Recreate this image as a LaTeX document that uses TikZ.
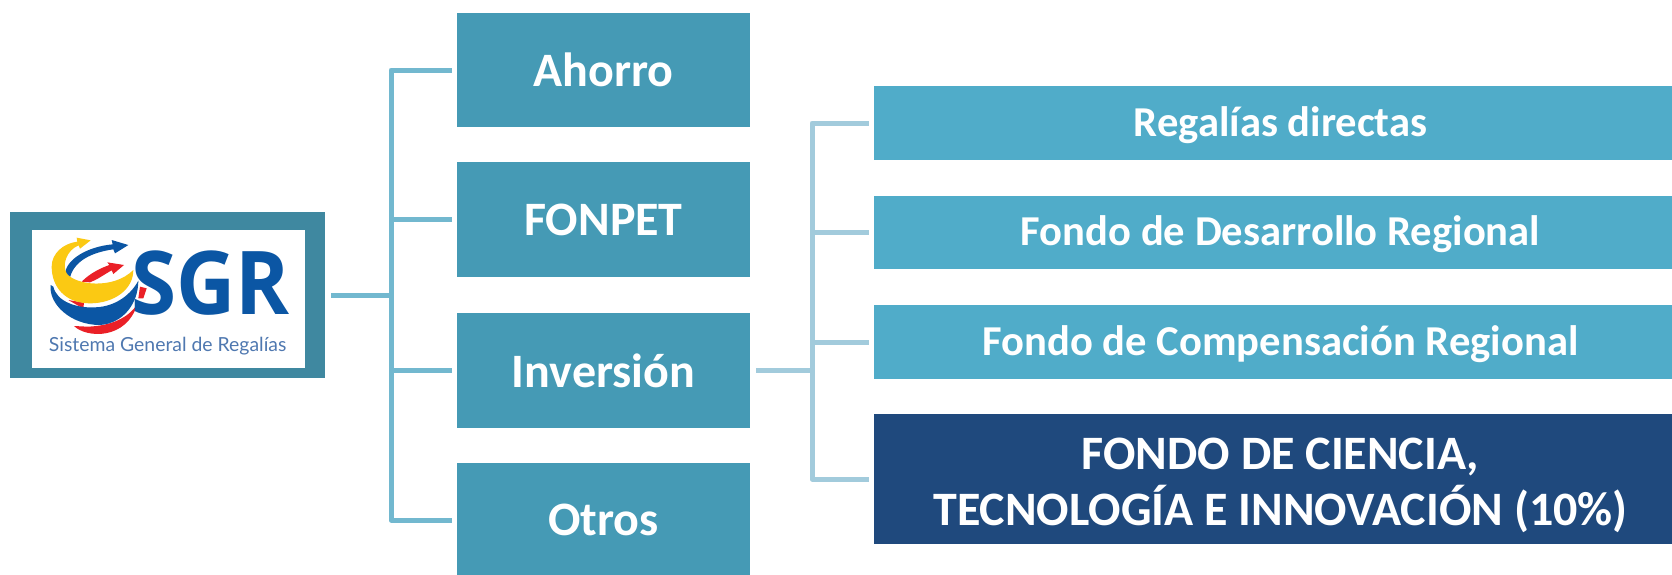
\documentclass[tikz,border=0pt]{standalone}
\usepackage{fontspec}
\setmainfont{Carlito}
\newfontfamily\logofont{Open Sans}
\newfontfamily\subfont{Lato}
\definecolor{boxa}{HTML}{459AB5}
\definecolor{boxb}{HTML}{50ACC9}
\definecolor{boxc}{HTML}{1F497D}
\definecolor{framec}{HTML}{3F88A0}
\definecolor{linea}{HTML}{72B8CF}
\definecolor{lineb}{HTML}{A2CBDC}
\definecolor{logoblue}{HTML}{0B56A4}
\definecolor{logoyellow}{HTML}{FBC913}
\definecolor{logored}{HTML}{EA2027}
\definecolor{logosub}{HTML}{4F78B0}
\newcommand{\nudge}{\hspace*{7.5pt}}
\tikzset{
  boxbase/.style={inner sep=0pt,outer sep=0pt,text=white,align=center,font=\bfseries},
  firstbox/.style={boxbase,fill=boxa,font=\fontsize{24}{28}\selectfont\bfseries},
  secondbox/.style={boxbase,fill=boxb,text height=16pt,text depth=2.6pt,font=\fontsize{21.3}{25}\selectfont\bfseries},
  thirdbox/.style={boxbase,fill=boxc,font=\fontsize{24}{27.7}\selectfont\bfseries},
  framebox/.style={inner sep=0pt,outer sep=0pt,fill=framec},
  whitebox/.style={inner sep=0pt,outer sep=0pt,fill=white},
  conna/.style={draw=linea,line width=2.5pt,line join=round},
  connb/.style={draw=lineb,line width=2.5pt,line join=round},
}
% \placebox{style}{name}{x1}{y1}{x2}{y2}{text}
\newcommand{\placebox}[7]{\node[#1,minimum width={(#5-#3)*0.5pt},minimum height={(#6-#4)*0.5pt}] (#2) at ({(#3+#5)/2},{(#4+#6)/2}) {#7};}
\begin{document}
\begin{tikzpicture}[x=0.5pt,y=-0.5pt]
\useasboundingbox (0,0) rectangle (1672,574);
\placebox{framebox}{root}{10}{212}{325}{378}{}
\placebox{whitebox}{logo}{32}{230}{305}{368}{}
\placebox{firstbox}{ahorro}{457}{13}{750}{127}{Ahorro}
\placebox{firstbox}{fonpet}{457}{162}{750}{277}{FONPET}
\placebox{firstbox}{inversion}{457}{313}{750}{428}{Inversión}
\placebox{firstbox}{otros}{457}{463}{750}{577}{Otros}
\placebox{secondbox}{regalias}{874}{86}{1672}{160}{\nudge Regalías directas}
\placebox{secondbox}{desarrollo}{874}{196}{1672}{269}{\nudge Fondo de Desarrollo Regional}
\placebox{secondbox}{compensacion}{874}{305}{1672}{379}{\nudge Fondo de Compensación Regional}
\placebox{thirdbox}{ciencia}{874}{414}{1672}{544}{\rule{0pt}{22.3pt}\nudge FONDO DE CIENCIA,\\\nudge TECNOLOGÍA E INNOVACIÓN (10\%)}
% connectors, first level
\coordinate (ja) at (391,0);
\draw[conna,shorten <=3pt] (root.east) -- (root.east -| ja);
\draw[conna,shorten >=2.5pt] (root.east -| ja) |- (ahorro.west);
\draw[conna,shorten >=2.5pt] (root.east -| ja) |- (fonpet.west);
\draw[conna,shorten >=2.5pt] (root.east -| ja) |- (inversion.west);
\draw[conna,shorten >=2.5pt] (root.east -| ja) |- (otros.west);
% connectors, second level
\coordinate (jb) at (812,0);
\draw[connb,shorten <=3pt] (inversion.east) -- (inversion.east -| jb);
\draw[connb,shorten >=2.5pt] (inversion.east -| jb) |- (regalias.west);
\draw[connb,shorten >=2.5pt] (inversion.east -| jb) |- (desarrollo.west);
\draw[connb,shorten >=2.5pt] (inversion.east -| jb) |- (compensacion.west);
\draw[connb,shorten >=2.5pt] (inversion.east -| jb) |- (ciencia.west);
% logo, in the coordinates of a 3x crop
\begin{scope}[shift={(0,190)},x=0.16667pt,y=-0.16667pt]
\fill[logored] (420,290) -- (440,295) -- (430,325) -- (415,325) -- cycle;
\fill[logored] (205,330) -- (252,338) -- (250,356) -- cycle;
\fill[logored] (222,408) .. controls (260,445) and (380,450) .. (412,342) .. controls (385,385) and (330,408) .. (262,410) -- cycle;
\fill[logored] (245,275) .. controls (270,250) and (300,235) .. (328,225) -- (322,217) -- (372,225) -- (340,252) -- (335,241) .. controls (310,255) and (290,270) .. (270,277) -- cycle;
\fill[logoblue] (195,255) .. controls (195,210) and (260,170) .. (338,163) -- (335,150) -- (385,165) -- (345,190) -- (340,178) .. controls (290,185) and (225,205) .. (210,262) -- cycle;
\fill[logoblue] (152,285) .. controls (145,340) and (210,405) .. (300,405) .. controls (370,400) and (415,340) .. (415,272) .. controls (395,310) and (350,350) .. (285,352) .. controls (230,355) and (170,335) .. (160,290) -- cycle;
\fill[logoyellow] (230,143) -- (272,151) -- (240,176) -- (236,166) .. controls (200,180) and (185,225) .. (200,250) .. controls (225,285) and (340,300) .. (400,240) .. controls (400,300) and (340,340) .. (270,340) .. controls (195,340) and (155,290) .. (155,230) .. controls (155,190) and (190,160) .. (232,155) -- cycle;
\node[inner sep=0pt,anchor=base,text=logoblue,font=\logofont\bfseries\fontsize{44}{44}\selectfont] (sgr) at (632,372) {\scalebox{0.93}[1]{SGR}};
\node[inner sep=0pt,anchor=base,text=logosub,font=\subfont\fontsize{9.7}{10}\selectfont] (sub) at (503,484) {Sistema General de Regalías};
\end{scope}
\end{tikzpicture}
\end{document}
